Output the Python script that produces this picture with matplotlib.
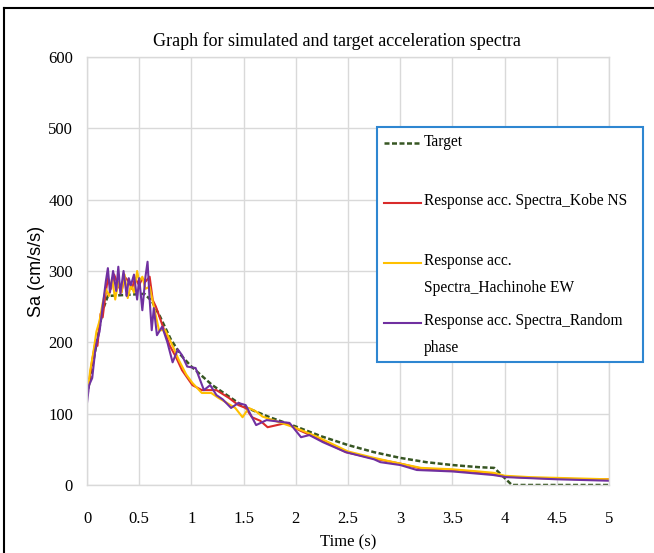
import numpy as np
import matplotlib.pyplot as plt
from matplotlib.lines import Line2D
from matplotlib.legend_handler import HandlerLine2D

plt.rcParams['font.family'] = 'Liberation Serif'

# period (s) and spectral acceleration (cm/s/s)
target_T = [0, 0.05, 0.1, 0.15, 0.2, 0.55, 0.62, 0.7, 0.8, 0.9, 1.0, 1.2, 1.5, 1.75,
            2.0, 2.25, 2.5, 2.75, 3.0, 3.25, 3.5, 3.75, 3.9, 4.07, 5.0]
target_Sa = [125, 165, 205, 245, 265, 268, 258, 236, 205, 182, 166, 140, 110, 95,
             82, 68, 56, 46, 38, 32, 28, 25, 24, 0, 0]

kobe_T = [0, 0.02, 0.05, 0.08, 0.1, 0.13, 0.15, 0.18, 0.2, 0.23, 0.26, 0.3, 0.33,
          0.36, 0.4, 0.43, 0.46, 0.5, 0.53, 0.56, 0.6, 0.63, 0.66, 0.72, 0.79, 0.85,
          0.91, 1.01, 1.1, 1.24, 1.36, 1.45, 1.52, 1.58, 1.66, 1.73, 1.82, 1.91, 2.03,
          2.2, 2.48, 2.75, 3.0, 3.2, 3.5, 3.75, 3.9, 4.0, 4.25, 4.5, 4.75, 5.0]
kobe_Sa = [150, 145, 175, 200, 195, 240, 235, 270, 290, 275, 295, 280, 270,
           292, 285, 275, 290, 280, 290, 285, 292, 259, 250, 225, 196, 180,
           161, 140, 133, 133, 122, 112, 108, 95, 90, 81, 84, 87, 77,
           66, 46, 37, 30, 23, 21, 18, 15, 12, 10, 9, 8, 8]

hachinohe_T = [0, 0.03, 0.06, 0.09, 0.12, 0.15, 0.18, 0.21, 0.24, 0.27, 0.3, 0.33,
               0.36, 0.39, 0.42, 0.45, 0.48, 0.5, 0.53, 0.56, 0.6, 0.64, 0.69, 0.75,
               0.82, 0.88, 0.95, 1.01, 1.1, 1.19, 1.26, 1.33, 1.42, 1.49, 1.55, 1.62,
               1.68, 1.76, 1.84, 2.0, 2.2, 2.5, 2.75, 3.0, 3.2, 3.5, 3.75, 3.9, 4.0,
               4.25, 4.5, 4.75, 5.0]
hachinohe_Sa = [125, 160, 185, 215, 230, 255, 275, 265, 290, 260, 285, 270,
                295, 262, 280, 270, 300, 285, 292, 275, 278, 250, 217, 217,
                195, 175, 155, 143, 129, 129, 122, 116, 108, 95, 108, 103,
                96, 92, 88, 80, 68, 47, 38, 30, 24, 22, 19, 17, 13,
                11, 10, 9, 8]

random_T = [0, 0.02, 0.05, 0.08, 0.1, 0.12, 0.15, 0.18, 0.2, 0.22, 0.25, 0.28, 0.3,
            0.32, 0.35, 0.38, 0.4, 0.42, 0.45, 0.48, 0.5, 0.53, 0.56, 0.58, 0.6, 0.62,
            0.64, 0.67, 0.72, 0.77, 0.82, 0.87, 0.91, 0.96, 1.04, 1.12, 1.18, 1.24,
            1.3, 1.38, 1.45, 1.52, 1.62, 1.72, 1.83, 1.94, 2.05, 2.13, 2.26, 2.48,
            2.75, 2.81, 3.0, 3.16, 3.5, 3.89, 4.02, 4.5, 5.0]
random_Sa = [115, 140, 150, 190, 205, 215, 250, 285, 304, 270, 300, 272, 306,
             268, 300, 265, 290, 280, 295, 260, 290, 245, 292, 313, 260, 217,
             248, 210, 222, 200, 172, 190, 182, 166, 164, 133, 140, 126,
             120, 108, 115, 112, 84, 91, 89, 87, 67, 70, 60, 46,
             36, 32, 28, 21, 19, 14, 11, 8, 6]

x_ticks = [0, 0.5, 1, 1.5, 2, 2.5, 3, 3.5, 4, 4.5, 5]
x_ticklabels = ['0', '0.5', '1', '1.5', '2', '2.5', '3', '3.5', '4', '4.5', '5']
y_ticks = [0, 100, 200, 300, 400, 500, 600]


class RaisedLine(HandlerLine2D):
    # put the legend line level with the first text line
    def create_artists(self, legend, orig_handle, xdescent, ydescent, width,
                       height, fontsize, trans):
        arts = super().create_artists(legend, orig_handle, xdescent, ydescent,
                                      width, height, fontsize, trans)
        for a in arts:
            a.set_ydata(np.asarray(a.get_ydata()) + 0.76 * fontsize)
        return arts


fig = plt.figure(figsize=(6.54, 5.53), dpi=100)
ax = fig.add_axes([87 / 654, 68 / 553, 522 / 654, 428 / 553])

ax.plot(target_T, target_Sa, color='#375623', lw=1.8, dashes=(2, 1),
        label='Target\n')
ax.plot(kobe_T, kobe_Sa, color='#D92B2B', lw=1.5,
        label='Response acc. Spectra_Kobe NS\n')
ax.plot(hachinohe_T, hachinohe_Sa, color='#FFC000', lw=1.5,
        label='Response acc.\nSpectra_Hachinohe EW')
ax.plot(random_T, random_Sa, color='#7030A0', lw=1.5,
        label='Response acc. Spectra_Random\nphase')

ax.set_xlim(0, 5)
ax.set_ylim(0, 600)
ax.set_xticks(x_ticks)
ax.set_xticklabels(x_ticklabels)
ax.set_yticks(y_ticks)
ax.grid(True, color='#d9d9d9', lw=1)
ax.set_axisbelow(True)
for s in ax.spines.values():
    s.set_color('#d9d9d9')
    s.set_linewidth(1)
ax.tick_params(length=0, labelsize=12)
ax.tick_params(axis='x', pad=19)
ax.tick_params(axis='y', pad=10)

ax.set_title('Graph for simulated and target acceleration spectra', fontsize=13,
             pad=8, x=0.479)
ax.set_xlabel('Time (s)', fontsize=12, labelpad=5)
ax.set_ylabel('Sa (cm/s/s)', fontsize=13, family='Liberation Sans', labelpad=2)

leg = ax.legend(loc='upper left',
                bbox_to_anchor=(377 / 654, 1 - 364 / 553, 266 / 654, 237 / 553),
                bbox_transform=fig.transFigure, mode='expand', borderaxespad=0,
                fontsize=11.2, frameon=True, fancybox=False, framealpha=1,
                edgecolor='#2E86D1', handlelength=2.4, handletextpad=0.2,
                borderpad=0.42, labelspacing=1.14,
                handler_map={Line2D: RaisedLine()})
leg.get_frame().set_linewidth(1.5)
for t in leg.get_texts():
    t.set_linespacing(1.85)

# black frame lines along the top and left edge of the picture
fig.add_artist(Line2D([0.006, 1], [0.986, 0.986], color='black', lw=1.5,
                      transform=fig.transFigure))
fig.add_artist(Line2D([0.006, 0.006], [0, 0.986], color='black', lw=1.5,
                      transform=fig.transFigure))

fig.savefig('out.png', dpi=100)
